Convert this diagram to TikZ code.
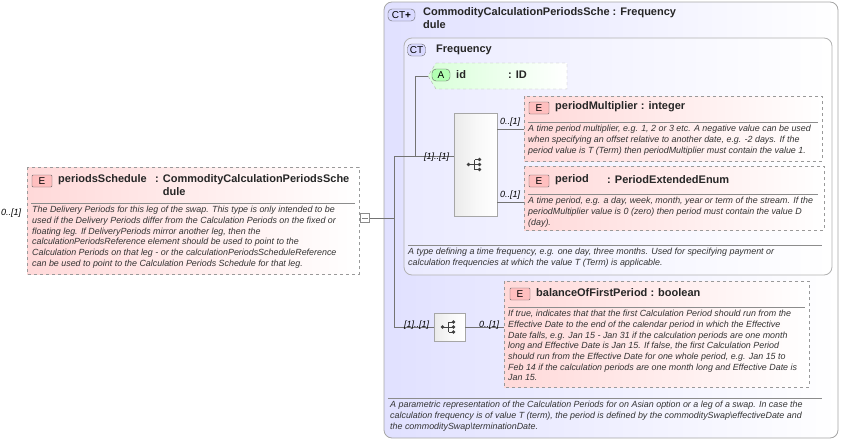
\documentclass[tikz,border=0pt]{standalone}
\usepackage{fontspec}
\setmainfont{Liberation Sans}
\begin{document}
\begin{tikzpicture}[x=1pt,y=-1pt,
  desc/.style={anchor=north west,inner sep=0pt,align=left,font=\fontsize{8.9}{10.7}\selectfont\itshape,text=black!80},
  ttl/.style={anchor=west,inner sep=0pt,font=\fontsize{11}{13}\selectfont\bfseries,text=black!85},
  card/.style={anchor=west,inner sep=0pt,font=\fontsize{9}{10}\selectfont\itshape},
  elem/.style={draw=black!40,dashed,left color=red!15,right color=white},
  badge/.style={draw=black!60,rounded corners=1pt,inner sep=0pt,minimum height=12pt,font=\fontsize{10}{11}\selectfont},
  sep/.style={draw=black!45},
  conn/.style={draw=black!55},
  seq/.style={draw=black!35,left color=black!8,right color=white,middle color=black!3}]
\useasboundingbox (0,0) rectangle (844,442);
% outer CT
\draw[draw=black!35,rounded corners=8pt,left color=blue!12,right color=white,line width=0.8pt] (384,2) rectangle (838,438);
\node[badge,fill=blue!15,minimum width=27pt,rounded corners=4pt] (ctp) at (401.5,15) {CT\textbf{+}};
\node[anchor=north west,inner sep=0pt,align=left,font=\fontsize{11}{13}\selectfont\bfseries,text=black!85] (ctt) at (423,7) {CommodityCalculationPeriodsSche : Frequency\\dule};
\draw[sep] (388,398) -- (822,398);
\node[desc] (ctd) at (390,401) {A parametric representation of the Calculation Periods for on Asian option or a leg of a swap. In case the\\calculation frequency is of value T (term), the period is defined by the commoditySwap\textbackslash effectiveDate and\\the commoditySwap\textbackslash terminationDate.};
% Frequency
\draw[draw=black!30,rounded corners=8pt,left color=blue!8,right color=white,line width=0.8pt] (404,38) rectangle (832,275);
\node[badge,fill=blue!15,minimum width=18pt,rounded corners=4pt] (ctb) at (416.5,50) {CT};
\node[ttl] (frt) at (436,50) {Frequency};
\draw[sep] (408,245) -- (822,245);
\node[desc] (frd) at (408,248) {A type defining a time frequency, e.g. one day, three months. Used for specifying payment or\\calculation frequencies at which the value T (Term) is applicable.};
% id attribute
\draw[draw=black!30,dashed,left color=green!15,right color=white] (436,63) -- (567,63) -- (567,89) -- (436,89) -- (428,76) -- cycle;
\node[badge,fill=green!30,minimum width=18pt,rounded corners=4pt] (ab) at (441,75) {A};
\node[ttl] (idn) at (456,75) {id};
\node[ttl] (idt) at (508,75) {: ID};
\coordinate (idl) at (428,76);
% sequence 1
\node[seq,minimum width=43pt,minimum height=103pt,inner sep=0pt] (s1) at (475.5,164.5) {};
% periodMultiplier
\draw[elem] (524,96) rectangle (822,161);
\node[badge,fill=red!25,minimum width=20pt] (b1) at (539,108) {E};
\node[ttl] (t1) at (555,107) {periodMultiplier : integer};
\draw[sep] (528,122) -- (818,122);
\node[desc] (d1) at (528,125) {A time period multiplier, e.g. 1, 2 or 3 etc. A negative value can be used\\when specifying an offset relative to another date, e.g. -2 days. If the\\period value is T (Term) then periodMultiplier must contain the value 1.};
\coordinate (e1) at (524,129);
% period
\draw[elem] (524,166) rectangle (824,230);
\node[badge,fill=red!25,minimum width=20pt] (b2) at (539,181) {E};
\node[ttl] (t2) at (555,180) {period};
\node[ttl] (t2b) at (607,180) {: PeriodExtendedEnum};
\draw[sep] (528,194) -- (818,194);
\node[desc] (d2) at (528,197) {A time period, e.g. a day, week, month, year or term of the stream. If the\\periodMultiplier value is 0 (zero) then period must contain the value D\\(day).};
\coordinate (e2) at (524,202);
% balanceOfFirstPeriod
\draw[elem] (504,281) rectangle (809,387);
\node[badge,fill=red!25,minimum width=20pt] (b3) at (520,294) {E};
\node[ttl] (t3) at (536,293) {balanceOfFirstPeriod : boolean};
\draw[sep] (508,307) -- (805,307);
\node[desc] (d3) at (508,310) {If true, indicates that that the first Calculation Period should run from the\\Effective Date to the end of the calendar period in which the Effective\\Date falls, e.g. Jan 15 - Jan 31 if the calculation periods are one month\\long and Effective Date is Jan 15. If false, the first Calculation Period\\should run from the Effective Date for one whole period, e.g. Jan 15 to\\Feb 14 if the calculation periods are one month long and Effective Date is\\Jan 15.};
\coordinate (e3) at (504,327);
% sequence 2
\node[seq,minimum width=31pt,minimum height=28pt,inner sep=0pt] (s2) at (449.5,327) {};
% periodsSchedule
\draw[elem] (27,167) rectangle (359,274);
\node[badge,fill=red!25,minimum width=20pt] (b0) at (42,181) {E};
\node[ttl] (t0) at (58,180) {periodsSchedule};
\node[anchor=north west,inner sep=0pt,align=left,font=\fontsize{11}{13}\selectfont\bfseries,text=black!85] (t0b) at (155,174) {: CommodityCalculationPeriodsSche\\\phantom{: }dule};
\draw[sep] (31,203) -- (355,203);
\node[desc] (d0) at (32,206) {The Delivery Periods for this leg of the swap. This type is only intended to be\\used if the Delivery Periods differ from the Calculation Periods on the fixed or\\floating leg. If DeliveryPeriods mirror another leg, then the\\calculationPeriodsReference element should be used to point to the\\Calculation Periods on that leg - or the calculationPeriodsScheduleReference\\can be used to point to the Calculation Periods Schedule for that leg.};
\node[card] (c0) at (1,213) {0..[1]};
\node[draw=black!45,fill=white,minimum size=9pt,inner sep=0pt] (sq) at (365,218) {};
\draw[black!50] (362,218) -- (368,218);
% sequence icons
\foreach \s in {s1,s2}{
  \fill[black!75] ([xshift=-7pt]\s.center) circle (1.8pt);
  \draw[black!75] ([xshift=-7pt]\s.center) -- ([xshift=-1pt]\s.center);
  \draw[black!75] ([xshift=-1pt,yshift=-5pt]\s.center) -- ([xshift=-1pt,yshift=5pt]\s.center);
  \foreach \dy in {-5,0,5}{
    \draw[black!75] ([xshift=-1pt,yshift=\dy pt]\s.center) -- ([xshift=3pt,yshift=\dy pt]\s.center);
    \fill[black!75] ([xshift=4pt,yshift=\dy pt]\s.center) circle (1.8pt);}
}
% connectors
\coordinate (v1) at (394,156);
\coordinate (v2) at (394,327);
\coordinate (w1) at (415,76);
\coordinate (w2) at (415,156);
\draw[conn] (sq.east) -- (394,218);
\draw[conn] (v1) -- (v2) -- (s2.west);
\draw[conn] (v1) -- (w2);
\draw[conn] (idl) -- (w1) -- (w2) -- (s1.west |- w2);
\draw[conn] (s1.east |- e1) -- (e1);
\draw[conn] (s1.east |- e2) -- (e2);
\draw[conn] (s2.east) -- (e3);
\node[card] (c1) at (424,157) {[1]..[1]};
\node[card] (c2) at (500,122) {0..[1]};
\node[card] (c3) at (500,195) {0..[1]};
\node[card] (c4) at (404,325) {[1]..[1]};
\node[card] (c5) at (479,325) {0..[1]};
\end{tikzpicture}
\end{document}
